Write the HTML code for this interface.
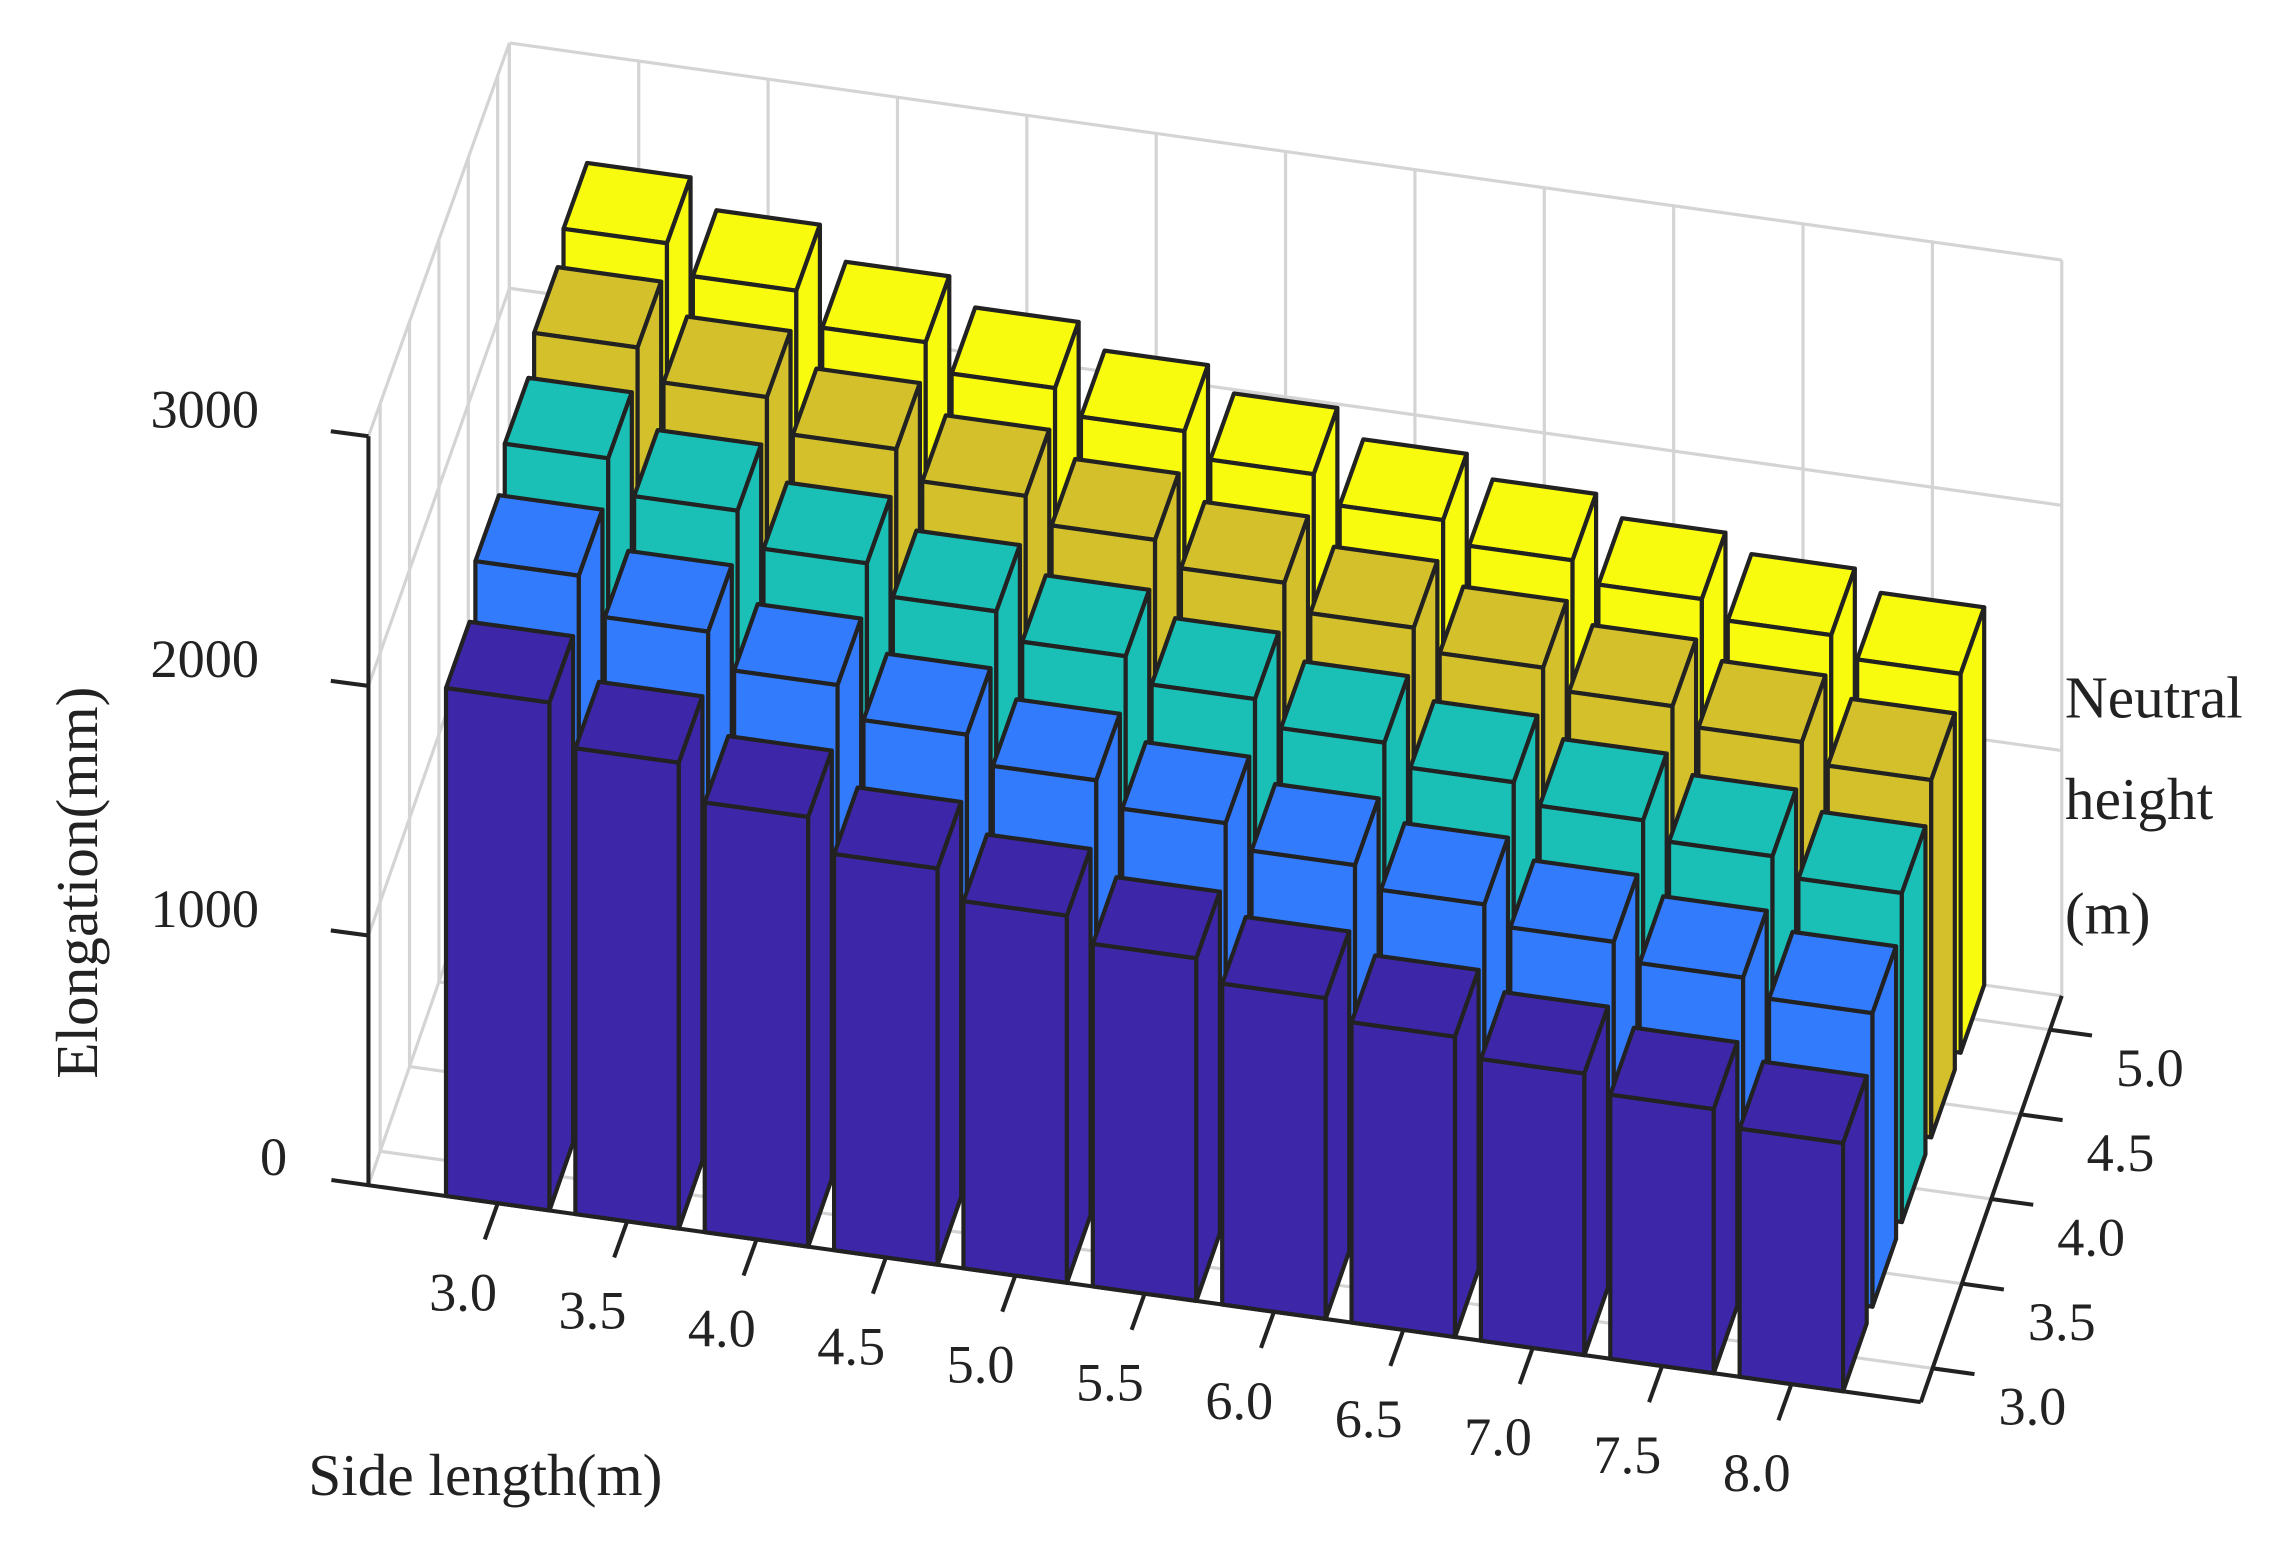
<!DOCTYPE html>
<html><head><meta charset="utf-8"><style>
html,body{margin:0;padding:0;background:#fff;}
svg{display:block;}
text{font-family:"Liberation Serif",serif;fill:#222;}
</style></head><body>
<svg id="s" width="2269" height="1557" viewBox="0 0 1568 1076" xmlns="http://www.w3.org/2000/svg"></svg>
<script>
const O=[352.1,808.1],dx=[89.4,12.5],dy=[20.3,-58.5];
function kz(j){return 0.1725-(0.1725-0.1695)*(j+0.4)/4.8;}
function P(i,j,z){return [O[0]+i*dx[0]+j*dy[0], O[1]+i*dx[1]+j*dy[1]-z*kz(j)];}
let out=[];
function line(a,b,c,w){out.push(`<line x1="${a[0].toFixed(1)}" y1="${a[1].toFixed(1)}" x2="${b[0].toFixed(1)}" y2="${b[1].toFixed(1)}" stroke="${c}" stroke-width="${w}"/>`);}
function poly(pts,f){out.push(`<polygon points="${pts.map(p=>p[0].toFixed(1)+','+p[1].toFixed(1)).join(' ')}" fill="${f}" stroke="#222" stroke-width="2.9" stroke-linejoin="round"/>`);}
const I0=-1,I1=11,J0=-0.4,J1=4.4,ZT=3000,g='#d4d4d4',gw=2.2;
for(let i=I0;i<=I1;i++) line(P(i,J1,0),P(i,J1,ZT),g,gw);
for(let z=0;z<=ZT;z+=1000) line(P(I0,J1,z),P(I1,J1,z),g,gw);
for(let j=0;j<=4;j++) line(P(I0,j,0),P(I0,j,ZT),g,gw);
for(let z=0;z<=ZT;z+=1000) line(P(I0,J0,z),P(I0,J1,z),g,gw);
line(P(I0,J1,0),P(I0,J1,ZT),g,gw);
for(let i=0;i<=10;i++) line(P(i,J0,0),P(i,J1,0),g,gw);
for(let j=0;j<=4;j++) line(P(I0,j,0),P(I1,j,0),g,gw);
line(P(I0,J0,0),P(I0,J0,ZT),'#222',2.8);
line([229,815.5],P(I1,J0,0),'#222',2.8);
line(P(I1,J0,0),P(I1,J1,0),'#222',2.8);
for(let z=1000;z<=ZT;z+=1000){const p=P(I0,J0,z);line([p[0]-26,p[1]-3.5],p,'#222',2.8);}
for(let i=0;i<=10;i++){const p=P(i,J0,0);line(p,[p[0]-9,p[1]+25],'#222',2.8);}
for(let j=0;j<=4;j++){const p=P(I1,j,0);line(p,[p[0]+29,p[1]+4],'#222',2.8);}
const pur=[2035,1866,1721,1587,1471,1372,1285,1203,1128,1058,994];
const yel=[2555,2436,2300,2187,2085,1984,1871,1781,1697,1624,1540];
const fr=[0,.34,.61,.83,1];
const cols=['#3d27a8','#327bfc','#1abfb5','#d3c02a','#f9fb0e'];
const w=0.4;
for(let j=4;j>=0;j--){for(let i=0;i<=10;i++){
 const h=pur[i]+fr[j]*(yel[i]-pur[i]);const c=cols[j];
 poly([P(i-w,j-w,h),P(i+w,j-w,h),P(i+w,j+w,h),P(i-w,j+w,h)],c);
 poly([P(i-w,j-w,0),P(i+w,j-w,0),P(i+w,j-w,h),P(i-w,j-w,h)],c);
 poly([P(i+w,j-w,0),P(i+w,j+w,0),P(i+w,j+w,h),P(i+w,j-w,h)],c);
}}
const zl=[[1000,'1000'],[2000,'2000'],[3000,'3000']];
for(const [z,t] of zl){const p=P(I0,J0,z);out.push(`<text x="179" y="${(p[1]-6).toFixed(1)}" font-size="37.5" text-anchor="end">${t}</text>`);}
out.push(`<text x="189" y="812" font-size="37.5" text-anchor="middle">0</text>`);
const xl=['3.0','3.5','4.0','4.5','5.0','5.5','6.0','6.5','7.0','7.5','8.0'];
xl.forEach((t,i)=>{const p=P(i,J0,0);out.push(`<text x="${(p[0]-24).toFixed(1)}" y="${(p[1]+74).toFixed(1)}" font-size="37.5" text-anchor="middle">${t}</text>`);});
['3.0','3.5','4.0','4.5','5.0'].forEach((t,j)=>{const p=P(I1,j,0);out.push(`<text x="${(p[0]+69).toFixed(1)}" y="${(p[1]+39).toFixed(1)}" font-size="37.5" text-anchor="middle">${t}</text>`);});
out.push(`<text x="0" y="0" font-size="41" text-anchor="middle" transform="translate(67,610) rotate(-90)">Elongation(mm)</text>`);
out.push(`<text x="213" y="1033" font-size="41">Side length(m)</text>`);
out.push(`<text x="1427" y="496" font-size="41">Neutral</text>`);
out.push(`<text x="1427" y="566" font-size="41">height</text>`);
out.push(`<text x="1427" y="645" font-size="41">(m)</text>`);
document.getElementById('s').innerHTML=out.join('');
</script>
</body></html>
